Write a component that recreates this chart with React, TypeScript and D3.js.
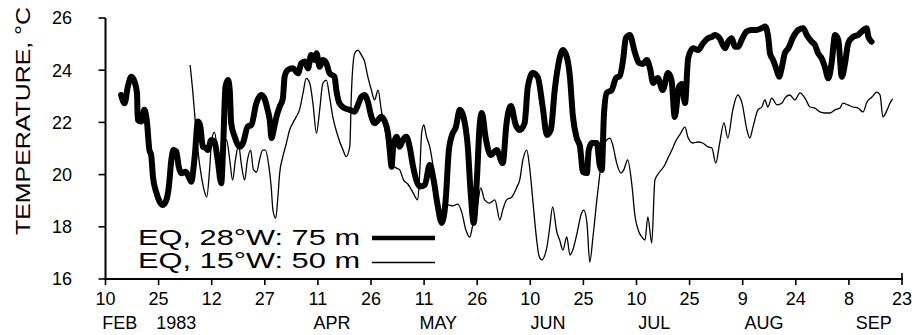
import React from "react";
import * as d3 from "d3";

// Days after 10 Feb 1983 and daily-mean temperature (°C)
const eq28wDay = [4.4,5.4,6.3,7.3,8.2,8.9,9.1,10.1,11.0,11.7,12.4,12.9,13.4,14.3,15.3,16.2,17.2,17.9,18.6,19.2,20.0,20.7,21.4,22.6,23.3,24.2,25.2,26.1,26.7,27.5,28.3,28.9,29.9,30.8,31.7,32.7,33.2,33.9,34.6,35.1,35.5,36.5,37.9,38.8,40.2,41.2,42.6,44.0,44.9,45.8,46.4,46.9,47.5,48.3,49.2,50.1,50.6,51.5,52.9,54.4,55.3,56.3,57.2,58.1,59.1,59.6,60.5,61.4,62.4,63.3,64.7,65.2,66.1,67.6,69.0,70.4,71.3,72.3,73.2,74.1,75.1,76.0,77.0,77.9,78.9,79.8,80.3,80.8,81.3,82.2,83.1,84.0,85.0,85.9,86.9,87.8,88.8,90.2,91.6,92.7,93.8,95.0,96.1,97.0,98.1,98.9,100.1,101.2,102.3,103.2,104.0,104.9,105.7,106.3,107.4,108.8,110.5,112.2,113.3,114.5,115.9,117.0,118.4,119.3,120.7,122.1,123.5,124.7,125.8,126.9,127.8,129.2,130.3,131.2,132.0,133.1,134.0,134.9,136.0,136.5,137.4,138.8,139.6,140.2,140.8,141.6,143.0,144.2,145.3,146.2,147.0,148.1,149.5,150.7,151.8,152.9,153.8,154.7,156.0,157.4,158.9,159.9,160.8,162.0,162.8,163.7,164.6,166.0,167.4,168.8,170.2,171.3,172.1,173.5,175.0,175.9,176.9,177.8,178.7,179.7,181.1,182.5,183.9,185.3,186.3,187.2,187.7,188.6,189.6,190.3,191.0,191.9,192.9,194.3,195.7,197.1,198.1,199.5,200.4,201.3,202.3,203.2,204.2,205.1,206.1,207.0,208.0,208.9,209.8,211.2,212.6,214.1,215.0,215.5,216.4];
const eq28wTemp = [23.05,22.73,23.37,23.75,23.56,23.12,22.09,22.03,22.48,22.03,20.94,20.75,19.92,19.34,18.96,18.84,19.03,19.54,20.56,20.94,20.88,20.30,20.05,20.11,19.98,19.73,20.69,22.03,21.90,21.07,21.02,20.94,21.33,21.26,20.56,19.67,20.94,23.37,23.62,23.24,21.97,21.45,21.07,21.20,21.84,21.90,22.73,23.05,22.92,22.48,22.09,21.40,21.71,22.22,22.60,22.92,23.75,24.01,24.07,23.88,24.26,24.33,24.07,24.58,24.39,24.65,24.13,24.39,24.26,23.88,23.75,23.24,22.73,22.54,22.48,22.41,22.67,22.98,23.05,22.79,22.22,21.97,22.09,22.22,22.03,21.58,20.94,20.30,21.13,21.45,21.07,21.33,21.45,21.07,20.30,19.79,19.54,19.60,20.37,19.79,18.84,18.15,19.03,20.94,21.59,21.79,22.48,22.17,21.13,19.22,18.15,19.79,21.90,22.36,21.40,20.75,20.94,20.44,21.98,22.63,21.90,21.71,21.98,23.36,23.89,23.74,22.59,21.52,21.71,23.24,24.12,24.77,24.51,23.74,22.28,21.40,21.10,20.10,20.06,20.94,21.21,21.21,20.37,20.18,22.28,23.13,23.24,23.70,23.78,24.39,25.23,25.35,24.70,24.28,24.24,24.39,24.08,23.51,23.70,23.24,23.89,23.62,22.21,23.36,23.47,22.74,24.47,24.84,24.77,25.03,25.22,25.28,25.35,25.22,24.84,25.09,25.22,24.90,24.90,25.16,25.48,25.54,25.54,25.61,25.67,25.28,24.65,24.39,24.01,23.75,24.07,24.65,24.84,25.28,25.54,25.61,25.35,25.09,24.97,24.65,24.46,24.13,23.69,24.26,25.35,25.16,23.75,24.26,25.03,25.28,25.35,25.54,25.61,25.28,25.09];

const eq15wDay = [23.9,24.7,25.4,26.1,27.1,28.0,28.6,29.4,30.0,30.8,31.7,32.5,33.4,34.2,35.1,35.9,36.7,37.6,38.4,39.3,40.1,41.0,41.8,42.7,43.5,44.4,45.2,46.1,46.8,47.3,48.1,48.7,49.2,50.1,51.1,52.0,52.9,53.9,54.8,55.8,56.7,57.7,58.6,59.6,60.5,61.4,62.4,63.3,64.2,65.7,67.1,68.0,69.0,69.5,70.4,71.3,72.3,73.2,74.1,75.1,76.0,77.0,77.9,79.3,80.3,81.7,83.1,84.2,85.4,86.8,88.2,88.8,89.3,89.9,90.7,91.6,92.7,93.8,94.7,95.5,96.7,98.1,99.5,100.6,101.8,102.9,103.7,104.9,106.0,107.1,108.5,110.0,111.4,112.2,113.3,114.8,116.2,117.0,117.9,119.0,119.8,120.7,121.8,122.4,123.2,124.7,125.5,126.3,127.5,128.3,129.2,130.3,131.2,132.0,133.1,134.5,135.1,136.0,136.8,137.7,138.8,139.6,140.5,141.6,142.5,143.3,144.4,145.6,146.4,147.5,148.7,149.5,150.7,151.5,152.4,153.2,154.3,155.2,156.3,158.0,158.9,160.0,161.1,162.2,163.7,164.5,165.9,167.3,168.7,170.2,171.3,172.4,173.5,174.7,175.8,177.2,178.6,179.8,181.2,182.0,182.9,184.3,185.4,186.3,187.1,188.2,189.7,191.1,191.9,193.3,194.7,196.2,197.6,199.0,200.4,201.8,203.2,204.6,206.1,207.5,208.3,209.7,211.1,212.6,214.0,215.1,216.5,217.9,218.8,219.6,220.8,221.6,222.4];
const eq15wTemp = [24.20,23.12,21.97,20.94,19.92,19.33,19.14,20.18,21.33,21.63,20.75,19.98,20.94,21.33,20.56,19.79,20.56,21.13,20.37,19.79,20.56,20.94,20.18,20.10,20.56,20.94,20.94,20.37,19.54,18.64,18.33,19.15,20.05,20.69,21.20,21.71,21.97,22.22,22.48,23.12,23.69,23.50,22.73,21.58,22.48,23.50,23.62,22.98,22.22,21.45,20.94,20.69,21.07,23.24,24.65,24.77,24.58,24.33,23.75,23.24,22.86,23.24,22.48,21.45,20.56,20.29,20.18,19.79,19.64,19.33,19.03,20.18,21.59,21.90,21.44,21.06,20.18,19.14,18.45,18.18,18.84,18.80,18.87,18.57,17.88,17.61,18.03,18.64,19.49,19.03,18.91,19.03,18.26,18.64,19.03,19.14,19.52,19.79,20.56,20.94,20.29,19.03,17.49,16.92,16.73,17.23,17.99,18.76,17.80,17.49,17.11,17.61,16.92,17.11,17.69,18.53,18.64,18.15,16.65,17.61,19.03,19.98,20.94,21.33,21.40,21.13,20.44,20.06,20.18,20.56,19.60,18.49,17.80,17.61,17.49,18.38,17.38,19.79,20.06,20.37,20.64,20.94,21.29,21.52,21.82,21.44,21.21,21.25,21.21,21.06,21.02,20.44,21.21,21.98,21.40,22.48,23.05,22.74,21.71,21.40,21.82,22.48,22.59,22.86,22.59,22.93,22.67,22.74,22.93,23.05,22.86,23.13,22.93,22.59,22.55,22.40,22.36,22.36,22.48,22.55,22.74,22.67,22.59,22.55,22.40,22.78,22.97,23.16,23.05,22.21,22.48,22.74,22.90];

// Axis content
const yTicks = [16, 18, 20, 22, 24, 26];
const xTickDays = [0, 15, 30, 45, 60, 75, 90, 105, 120, 135, 150, 165, 180, 195, 210, 225];
const monthNames = ["FEB", "APR", "MAY", "JUN", "JUL", "AUG", "SEP"];
const monthIndex = [1, 3, 4, 5, 6, 7, 8];
const yearLabel = "1983";
const legendLabels = ["EQ, 28°W: 75 m", "EQ, 15°W: 50 m"];
const yTitle = "TEMPERATURE, °C";

const START = Date.UTC(1983, 1, 10);
const toDate = (d: number) => new Date(START + d * 864e5);

const W = 912;
const H = 335;
const FONT = "'Liberation Sans', Arial, sans-serif";

export default function App() {
  const x = d3.scaleUtc().domain([toDate(0), toDate(225)]).range([105.5, 902]);
  const y = d3.scaleLinear().domain([16, 26]).range([279, 18]);
  const dayFmt = d3.utcFormat("%-d");

  const line = d3
    .line<[number, number]>()
    .x((p) => x(toDate(p[0])))
    .y((p) => y(p[1]))
    .curve(d3.curveMonotoneX);

  const s28 = d3.zip(eq28wDay, eq28wTemp) as [number, number][];
  const s15 = d3.zip(eq15wDay, eq15wTemp) as [number, number][];

  const x0 = x.range()[0];
  const x1 = x.range()[1];
  const yb = y(16);
  const yt = y(26);

  return (
    <svg
      width={W}
      height={H}
      style={{ position: "absolute", left: 0, top: 0, background: "#fff" }}
      fontFamily={FONT}
    >
      {/* series */}
      <path d={line(s15) ?? ""} fill="none" stroke="#000" strokeWidth={1.3} strokeLinejoin="round" />
      <path
        d={line(s28) ?? ""}
        fill="none"
        stroke="#000"
        strokeWidth={6}
        strokeLinejoin="round"
        strokeLinecap="round"
      />

      {/* y axis */}
      <line x1={x0} x2={x0} y1={yt} y2={yb + 1} stroke="#000" strokeWidth={2} />
      {yTicks.map((t) => (
        <g key={t}>
          <line x1={x0 - 7} x2={x0} y1={y(t)} y2={y(t)} stroke="#000" strokeWidth={1.6} />
          <text x={72} y={y(t)} dy="0.36em" textAnchor="end" fontSize={18}>
            {t}
          </text>
        </g>
      ))}
      <text
        transform={`translate(30,121) rotate(-90)`}
        textAnchor="middle"
        fontSize={21}
        textLength={228}
        lengthAdjust="spacingAndGlyphs"
      >
        {yTitle}
      </text>

      {/* x axis */}
      <line x1={x0 - 1} x2={x1 + 1} y1={yb} y2={yb} stroke="#000" strokeWidth={2} />
      {xTickDays.map((d) => {
        const px = x(toDate(d));
        return (
          <g key={d}>
            <line x1={px} x2={px} y1={d === 225 ? yb - 6 : yb} y2={yb + 6} stroke="#000" strokeWidth={1.6} />
            <text x={px} y={305} textAnchor="middle" fontSize={18}>
              {dayFmt(toDate(d))}
            </text>
          </g>
        );
      })}
      {monthNames.map((m, i) => (
        <text
          key={m}
          x={x(new Date(Date.UTC(1983, monthIndex[i], i === 0 ? 14 : 15)))}
          y={329}
          textAnchor="middle"
          fontSize={18}
        >
          {m}
        </text>
      ))}
      <text x={x(toDate(20))} y={329} textAnchor="middle" fontSize={18}>
        {yearLabel}
      </text>

      {/* legend */}
      <text x={138} y={245} fontSize={22} textLength={222} lengthAdjust="spacingAndGlyphs">
        {legendLabels[0]}
      </text>
      <line x1={372} x2={435} y1={238} y2={238} stroke="#000" strokeWidth={4.5} />
      <text x={138} y={268} fontSize={22} textLength={222} lengthAdjust="spacingAndGlyphs">
        {legendLabels[1]}
      </text>
      <line x1={372} x2={435} y1={262.5} y2={262.5} stroke="#000" strokeWidth={1.3} />
    </svg>
  );
}
